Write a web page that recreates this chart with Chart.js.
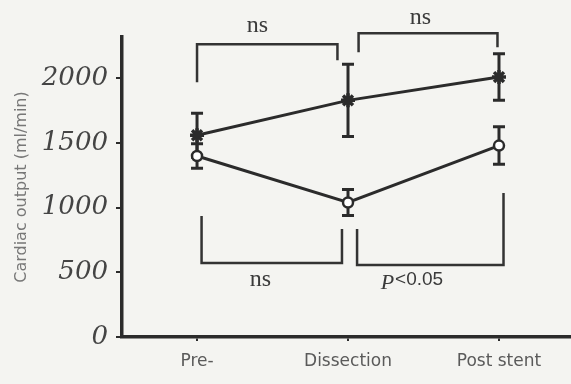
<!DOCTYPE html>
<html>
<head>
<meta charset="utf-8">
<script src="https://cdn.jsdelivr.net/npm/chart.js@4/dist/chart.umd.min.js"></script>
<style>
  html, body { margin: 0; padding: 0; background: #f4f4f1; }
  #wrap { width: 571px; height: 384px; position: relative; }
</style>
</head>
<body>
<div id="wrap"><canvas id="c"></canvas></div>
<script>
// Phases of the procedure
const phases = ['Pre-', 'Dissection', 'Post stent'];

// Group drawn with star markers (mean and error)
const groupStar = [1560, 1830, 2010];
const groupStarErr = [170, 280, 180];

// Group drawn with open circle markers (mean and error)
const groupCircle = [1400, 1040, 1480];
const groupCircleErr = [95, 100, 145];

// Y axis tick values
const yTicks = [0, 500, 1000, 1500, 2000];

// Pairwise comparisons: phases spanned, bracket level and leg ends (ml/min), label
const comparisons = [
  { from: 0.0, to: 0.93, level: 2264, legFrom: 1970, legTo: 2140, label: 'ns', labelAt: 0.40, labelLevel: 2410 },
  { from: 1.07, to: 1.99, level: 2349, legFrom: 2202, legTo: 2241, label: 'ns', labelAt: 1.48, labelLevel: 2472 },
  { from: 0.03, to: 0.96, level: 572, legFrom: 935, legTo: 835, label: 'ns', labelAt: 0.42, labelLevel: 440 },
  { from: 1.06, to: 2.03, level: 556, legFrom: 835, legTo: 1113, label: 'P<0.05', labelAt: 1.42, labelLevel: 440 }
];

const INK = '#2b2b2b';

const toPoints = arr => arr.map((v, i) => ({ x: i, y: v }));

// Vertical error bars with caps, drawn under the series
const errorBars = {
  id: 'errorBars',
  beforeDatasetsDraw(chart) {
    const { ctx, scales: { x, y } } = chart;
    const sets = [[groupStar, groupStarErr], [groupCircle, groupCircleErr]];
    ctx.save();
    ctx.strokeStyle = INK;
    ctx.lineWidth = 3;
    sets.forEach(([vals, errs]) => {
      vals.forEach((v, i) => {
        const px = x.getPixelForValue(i);
        const top = y.getPixelForValue(v + errs[i]);
        const bot = y.getPixelForValue(v - errs[i]);
        ctx.beginPath();
        ctx.moveTo(px, top); ctx.lineTo(px, bot);
        ctx.moveTo(px - 6, top); ctx.lineTo(px + 6, top);
        ctx.moveTo(px - 6, bot); ctx.lineTo(px + 6, bot);
        ctx.stroke();
      });
    });
    ctx.restore();
  }
};

// Significance brackets and their labels
const brackets = {
  id: 'brackets',
  afterDraw(chart) {
    const { ctx, scales: { x, y } } = chart;
    ctx.save();
    ctx.strokeStyle = '#333';
    ctx.lineWidth = 2.5;
    ctx.lineCap = 'butt';
    comparisons.forEach(c => {
      const x0 = x.getPixelForValue(c.from), x1 = x.getPixelForValue(c.to);
      const yl = y.getPixelForValue(c.level);
      ctx.beginPath();
      ctx.moveTo(x0, y.getPixelForValue(c.legFrom));
      ctx.lineTo(x0, yl);
      ctx.lineTo(x1, yl);
      ctx.lineTo(x1, y.getPixelForValue(c.legTo));
      ctx.stroke();

      const lx = x.getPixelForValue(c.labelAt);
      const ly = y.getPixelForValue(c.labelLevel);
      ctx.fillStyle = '#3a3a3a';
      ctx.textBaseline = 'middle';
      if (c.label.startsWith('P')) {
        const rest = c.label.slice(1);
        ctx.font = 'italic 22px "Liberation Serif"';
        const wP = ctx.measureText('P').width;
        ctx.font = '19px "Liberation Sans"';
        const wR = ctx.measureText(rest).width;
        const start = lx - (wP + wR) / 2;
        ctx.textAlign = 'left';
        ctx.font = 'italic 22px "Liberation Serif"';
        ctx.fillText('P', start, ly + 3);
        ctx.font = '19px "Liberation Sans"';
        ctx.fillText(rest, start + wP + 1, ly);
      } else {
        ctx.textAlign = 'center';
        ctx.font = '24px "Liberation Serif"';
        ctx.fillText(c.label, lx, ly);
      }
    });
    ctx.restore();
  }
};

new Chart(document.getElementById('c'), {
  type: 'line',
  data: {
    datasets: [
      {
        data: toPoints(groupStar),
        borderColor: INK,
        borderWidth: 3,
        pointStyle: 'star',
        pointRadius: 7,
        pointBorderWidth: 3.5,
        pointBorderColor: INK,
        pointBackgroundColor: INK,
        tension: 0
      },
      {
        data: toPoints(groupCircle),
        borderColor: INK,
        borderWidth: 3,
        pointStyle: 'circle',
        pointRadius: 5,
        pointBorderWidth: 2.5,
        pointBorderColor: INK,
        pointBackgroundColor: '#ffffff',
        tension: 0
      }
    ]
  },
  options: {
    responsive: true,
    maintainAspectRatio: false,
    devicePixelRatio: 1,
    animation: false,
    layout: { autoPadding: false, padding: { top: 37, right: 0, left: 0, bottom: 0 } },
    plugins: { legend: { display: false }, tooltip: { enabled: false } },
    scales: {
      x: {
        type: 'linear',
        min: -0.497,
        max: 2.477,
        afterBuildTicks: s => { s.ticks = phases.map((_, i) => ({ value: i })); },
        afterFit: s => { s.height = 47; },
        ticks: {
          callback: v => phases[v],
          color: '#5a5a5a',
          font: { family: 'DejaVu Sans', size: 17 },
          padding: 10,
          maxRotation: 0
        },
        grid: { drawOnChartArea: false, tickLength: 4, color: INK, lineWidth: 2 },
        border: { color: INK, width: 3.5 }
      },
      y: {
        min: 0,
        max: 2320,
        afterBuildTicks: s => { s.ticks = yTicks.map(v => ({ value: v })); },
        afterFit: s => { s.width = 122; },
        ticks: {
          callback: v => String(v),
          color: '#444',
          font: { family: 'DejaVu Serif', style: 'italic', size: 26 },
          padding: 8
        },
        grid: { drawOnChartArea: false, tickLength: 6, color: INK, lineWidth: 2 },
        border: { color: INK, width: 3.5 },
        title: {
          display: true,
          text: 'Cardiac output (ml/min)',
          color: '#777',
          font: { family: 'DejaVu Sans', size: 16 },
          padding: { top: 12, bottom: 0 }
        }
      }
    }
  },
  plugins: [errorBars, brackets]
});
</script>
</body>
</html>
